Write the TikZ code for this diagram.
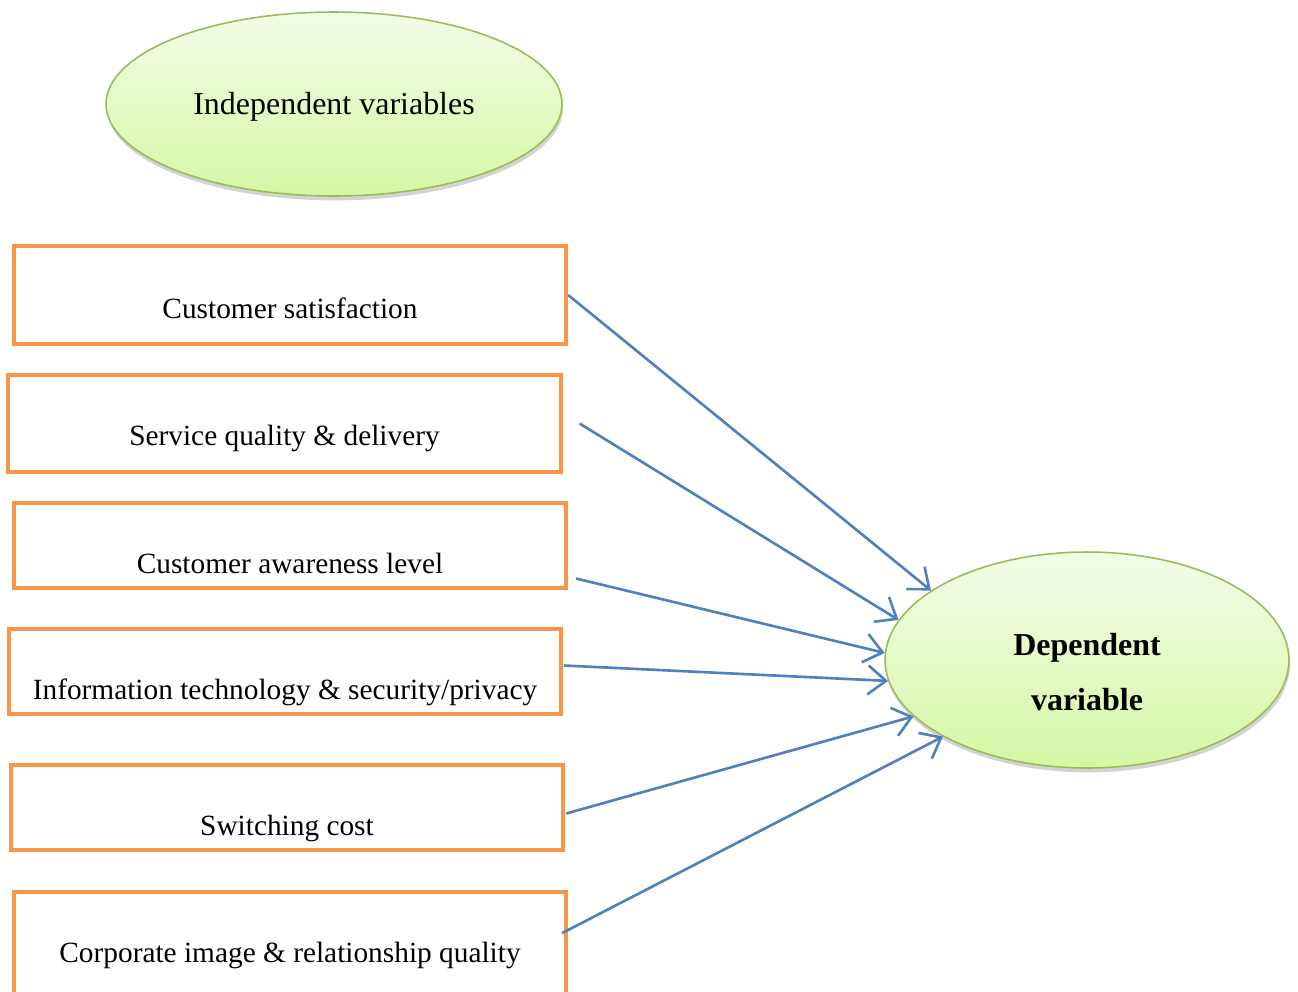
\documentclass[tikz,border=0pt]{standalone}
\usepackage{fontspec}
\setmainfont{Liberation Serif}
\usepackage{tikz}
\usetikzlibrary{shapes.geometric, arrows.meta, calc, shadows}
\definecolor{boxorange}{RGB}{247, 150, 70}
\definecolor{linkblue}{RGB}{79, 129, 189}
\definecolor{ovalgreen}{RGB}{155, 187, 89}
\definecolor{ovaltop}{RGB}{243, 252, 232}
\definecolor{ovalbottom}{RGB}{214, 247, 165}

\begin{document}
\begin{tikzpicture}[x=0.02cm, y=-0.02cm,
    factor/.style={draw=boxorange, line width=2.2pt, minimum width=11.05cm,
        inner xsep=0pt, inner ysep=0pt, text height=1.4cm, text depth=0.3cm,
        anchor=base, font=\fontsize{16.7}{20}\selectfont},
    oval/.style={ellipse, draw=ovalgreen, line width=0.9pt, inner sep=0pt,
        top color=ovaltop, bottom color=ovalbottom,
        drop shadow={shadow xshift=0.6pt, shadow yshift=-2.5pt, opacity=0.35},
        font=\fontsize{18.2}{31.5}\selectfont},
    link/.style={-{Straight Barb[length=0.36cm, width=0.58cm]}, linkblue, line width=1.5pt}]
    \useasboundingbox (0,0) rectangle (1298,991);

    % Ovals
    \node[oval, minimum width=9.12cm, minimum height=3.68cm, text height=0.56cm] (indep) at (334,104) {Independent variables};
    \node[oval, minimum width=8.08cm, minimum height=4.32cm,
        label={[name=deptext, align=center, yshift=-0.24cm, font=\fontsize{18.2}{31.5}\selectfont\bfseries]center:Dependent\\variable}]
        (dep) at (1087,660) {};

    % Factor boxes
    \node[factor, text height=1.44cm, text depth=0.52cm] (sat) at (290,318) {Customer satisfaction};
    \node[factor, text depth=0.54cm] (servq) at (284.5,445) {Service quality \& delivery};
    \node[factor] (aware) at (290,573) {Customer awareness level};
    \node[factor] (infotech) at (285,699) {Information technology \& security/privacy};
    \node[factor] (switch) at (287,835) {Switching cost};
    \node[factor, text depth=0.76cm] (corp) at (290,962) {Corporate image \& relationship quality};

    % Links
    \draw[link] (sat.east) -- (dep.156);
    \draw[link] ($(servq.east)+(17,0)$) -- (dep.168);
    \draw[link] ($(aware.east)+(8,33)$) -- (dep.178);
    \draw[link] ($(infotech.east)+(1,-6)$) -- (dep.186);
    \draw[link] ($(switch.east)+(1,6)$) -- (dep.198);
    \draw[link] ($(corp.north east)+(-6,43)$) -- (dep.208);

\end{tikzpicture}
\end{document}
